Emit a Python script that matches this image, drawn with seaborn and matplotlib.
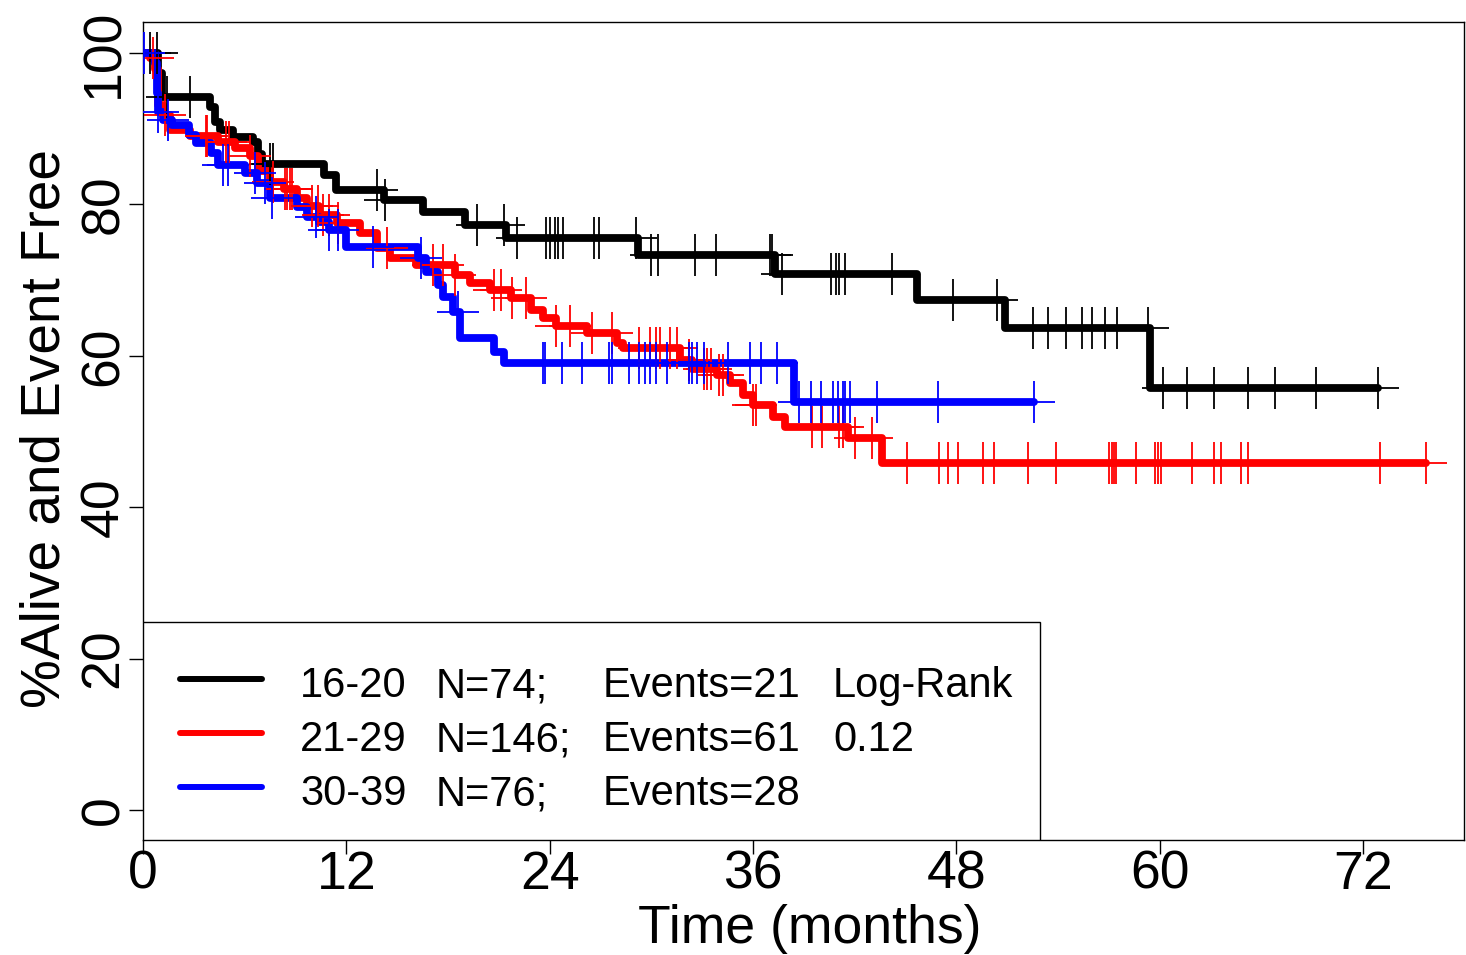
import numpy as np
import pandas as pd
import matplotlib
matplotlib.use("Agg")
import matplotlib.pyplot as plt
from matplotlib.patches import Rectangle
from matplotlib.lines import Line2D
import seaborn as sns

# ---------------- data ----------------
groups = ["16-20", "21-29", "30-39"]
colors = ["black", "red", "blue"]
legend_n = ["N=74;", "N=146;", "N=76;"]
legend_events = ["Events=21", "Events=61", "Events=28"]
logrank_lines = ["Log-Rank", "0.12"]

# step times (months) and survival (%) after each step
black_t = [0.9, 1.1, 3.95, 4.25, 4.55, 5.3, 6.5, 6.8, 7.0, 10.7, 11.4, 14.2, 16.5, 19.0, 21.4, 29.2, 37.3, 45.7, 50.9, 59.4]
black_s = [97.3, 94.2, 92.9, 90.9, 89.8, 88.9, 88.2, 86.6, 85.3, 83.9, 81.9, 80.6, 79.0, 77.3, 75.6, 73.3, 70.8, 67.4, 63.7, 55.7]
black_c = [0.4, 0.8, 1.4, 2.8, 7.5, 7.7, 13.8, 14.3, 19.7, 21.3, 22.1, 23.8, 24.0, 24.3, 24.5, 24.8, 26.6, 26.9,
           29.1, 30.0, 30.4, 32.6, 33.8, 37.0, 37.1, 37.7, 40.6, 40.9, 41.1, 41.4, 44.2, 47.8, 50.4, 52.5, 53.4,
           54.5, 55.4, 56.0, 56.8, 57.5, 59.3, 60.2, 61.6, 63.2, 65.2, 66.8, 69.2, 72.9]

red_t = [0.4, 0.7, 0.9, 1.2, 1.6, 2.8, 4.4, 5.4, 6.3, 6.8, 7.5, 8.3, 9.1, 9.7, 10.4, 11.45, 12.8, 13.8, 14.6,
         16.1, 18.4, 19.3, 20.5, 21.7, 22.9, 23.6, 24.4, 26.2, 28.0, 28.3, 31.7, 32.4, 33.9, 34.65, 35.4, 36.0,
         37.2, 37.9, 41.6, 43.6]
red_s = [99.3, 97.9, 93.2, 91.8, 89.8, 89.0, 88.3, 87.5, 86.4, 84.4, 83.0, 82.0, 80.8, 79.8, 78.6, 77.5, 76.2,
         74.3, 72.9, 72.0, 70.7, 69.6, 68.7, 67.6, 66.0, 65.0, 64.0, 63.0, 61.7, 61.0, 59.4, 58.2, 57.5, 56.4,
         54.8, 53.5, 51.9, 50.6, 49.1, 45.8]
red_c = [0.6, 1.3, 3.7, 3.8, 4.9, 5.1, 6.3, 7.7, 8.4, 8.5, 8.7, 8.8, 10.0, 10.3, 10.6, 11.0, 11.5, 14.4, 17.1,
         17.7, 18.4, 20.7, 21.1, 21.8, 22.6, 24.4, 25.2, 26.5, 27.7, 29.3, 29.9, 30.3, 30.5, 31.1, 31.5, 32.2,
         33.1, 33.3, 33.5, 34.0, 34.2, 36.0, 36.2, 39.5, 40.1, 41.1, 41.3, 42.0, 43.0, 45.1, 47.0, 47.5, 48.1,
         49.6, 50.2, 52.2, 53.9, 57.0, 57.2, 57.3, 57.4, 58.6, 59.7, 59.9, 60.1, 61.9, 63.2, 63.6, 64.8, 65.2,
         73.0, 75.7]

blue_t = [0.7, 0.8, 0.9, 1.2, 1.7, 2.7, 3.1, 4.0, 4.4, 6.0, 6.7, 7.5, 9.1, 9.7, 10.4, 11.0, 12.0, 16.2, 16.7,
          17.4, 17.7, 18.3, 18.7, 20.7, 21.3, 38.4]
blue_s = [98.7, 94.7, 92.2, 91.1, 90.5, 89.2, 88.1, 86.8, 85.2, 84.1, 82.8, 80.8, 79.7, 78.3, 77.7, 76.6, 74.4,
          72.9, 71.1, 69.4, 67.8, 65.8, 62.4, 60.5, 59.0, 53.9]
blue_c = [0.05, 0.9, 1.5, 4.7, 5.0, 6.6, 7.2, 7.6, 10.2, 11.0, 11.5, 13.6, 16.4, 18.6, 23.6, 23.7, 24.7, 25.9,
          27.5, 27.7, 28.7, 29.3, 29.6, 29.9, 30.3, 30.9, 32.2, 32.4, 32.7, 33.1, 34.5, 35.8, 36.5, 37.4, 38.7,
          39.4, 40.0, 40.7, 41.0, 41.3, 41.4, 41.7, 43.3, 46.9, 52.6]

x_ticks = [0, 12, 24, 36, 48, 60, 72]
y_ticks = [0, 20, 40, 60, 80, 100]
x_label = "Time (months)"
y_label = "%Alive and Event Free"

# ---------------- style ----------------
sns.set_theme(style="white")
plt.rcParams["font.family"] = ["Liberation Sans", "DejaVu Sans"]
plt.rcParams["text.color"] = "black"
plt.rcParams["axes.labelcolor"] = "black"

fig = plt.figure(figsize=(14.66, 9.55), dpi=100)
ax = fig.add_axes([143 / 1466, 1 - 840 / 955, (1464 - 143) / 1466, (840 - 22) / 955])


def km_frame(t, s, cens):
    end = max(cens) if len(cens) else t[-1]
    tt = [0.0] + list(t) + [end]
    ss = [100.0] + list(s) + [s[-1]]
    return pd.DataFrame({"time": tt, "surv": ss})


def censor_frame(t, s, cens):
    t_arr = np.array([0.0] + list(t))
    s_arr = np.array([100.0] + list(s))
    idx = np.searchsorted(t_arr, np.array(cens), side="right") - 1
    return pd.DataFrame({"time": cens, "surv": s_arr[idx]})


series = [(black_t, black_s, black_c), (red_t, red_s, red_c), (blue_t, blue_s, blue_c)]
for (t, s, c), col in zip(series, colors):
    df = km_frame(t, s, c)
    sns.lineplot(data=df, x="time", y="surv", ax=ax, color=col, linewidth=5.6,
                 drawstyle="steps-post", estimator=None, sort=False, legend=False,
                 solid_joinstyle="round", solid_capstyle="round")
    cf = censor_frame(t, s, c)
    sns.scatterplot(data=cf, x="time", y="surv", ax=ax, color=col, marker="+",
                    s=950, linewidth=1.3, legend=False, zorder=3)

ax.set_xlim(0, 77.96)
ax.set_ylim(-3.96, 104.1)
ax.set_xticks(x_ticks)
ax.set_yticks(y_ticks)
ax.set_xticklabels([str(v) for v in x_ticks])
ax.set_yticklabels([str(v) for v in y_ticks], rotation=90, va="center")
ax.tick_params(axis="both", which="both", direction="out", length=10, width=1.0,
               colors="black", labelcolor="black", labelsize=38.5,
               bottom=True, left=True, top=False, right=False)
ax.tick_params(axis="x", pad=-3)
ax.tick_params(axis="y", pad=0)
for sp in ax.spines.values():
    sp.set_visible(True)
    sp.set_color("black")
    sp.set_linewidth(1.0)

ax.set_xlabel(x_label, fontsize=38.5, color="black")
ax.set_ylabel(y_label, fontsize=39.5, color="black")
ax.xaxis.set_label_coords((810 - 143) / 1321, (840 - 904) / 818)
ax.yaxis.set_label_coords((72 - 143) / 1321, (840 - 428) / 818)

# ---------------- legend box ----------------
ax.add_patch(Rectangle((0, 0), (1040 - 143) / 1321, (840 - 622) / 818, transform=ax.transAxes,
                       facecolor="white", edgecolor="black", linewidth=1.0, zorder=5))
row_base = [(840 - 697) / 818, (840 - 751) / 818, (840 - 805) / 818]
row_mid = [(840 - 679) / 818, (840 - 733) / 818, (840 - 787) / 818]
cols_x = [(300 - 143) / 1321, (436 - 143) / 1321, (603 - 143) / 1321, (833 - 143) / 1321]
for i in range(3):
    ax.add_line(Line2D([(180 - 143) / 1321, (262 - 143) / 1321], [row_mid[i], row_mid[i]],
                       transform=ax.transAxes, color=colors[i], linewidth=4.3, zorder=6,
                       solid_capstyle="round"))
    for j, txt in enumerate([groups[i], legend_n[i], legend_events[i]]):
        ax.text(cols_x[j], row_base[i], txt, transform=ax.transAxes, fontsize=30,
                va="baseline", ha="left", zorder=6, color="black")
for i, txt in enumerate(logrank_lines):
    ax.text(cols_x[3], row_base[i], txt, transform=ax.transAxes, fontsize=30,
            va="baseline", ha="left", zorder=6, color="black")

fig.savefig("out.png", dpi=100, facecolor="white")
